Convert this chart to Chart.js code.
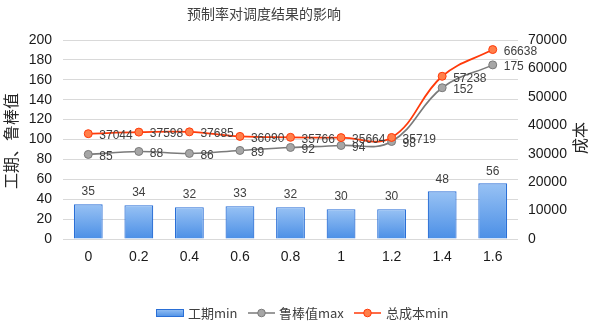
<!DOCTYPE html>
<html>
<head>
<meta charset="utf-8">
<script src="https://cdn.jsdelivr.net/npm/chart.js@4.4.0/dist/chart.umd.min.js"></script>
<style>
html,body{margin:0;padding:0;background:#fff;}
#wrap{width:590px;height:322px;}
</style>
</head>
<body>
<div id="wrap"><canvas id="c" width="590" height="322"></canvas></div>
<script>
const categories = ['0','0.2','0.4','0.6','0.8','1','1.2','1.4','1.6'];
const durationMin = [35,34,32,33,32,30,30,48,56];
const robustMax = [85,88,86,89,92,94,98,152,175];
const costMin = [37044,37598,37685,36090,35766,35664,35719,57238,66638];
const leftTicks = [0,20,40,60,80,100,120,140,160,180,200];
const rightTicks = [0,10000,20000,30000,40000,50000,60000,70000];

const titleText = '预制率对调度结果的影响';
const leftTitle = '工期、鲁棒值';
const rightTitle = '成本';
const seriesNames = ['工期min','鲁棒值max','总成本min'];

const FONT = '"Liberation Sans", "Noto Sans CJK SC", sans-serif';
const CJK = '"Noto Sans CJK SC", "Liberation Sans", sans-serif';

const BAR_TOP = '#98c2f4', BAR_BOT = '#4b8fe6', BAR_BORDER = '#2a6fd6';
const GRAY_LINE = '#7a7a7a', GRAY_FILL = '#a6a6a6';
const ORANGE_LINE = '#ff3a0a', ORANGE_FILL = '#ff7f4a';

const overlay = {
  id: 'overlay',
  afterDatasetsDraw(chart) {
    const ctx = chart.ctx;
    ctx.save();
    ctx.font = '12px ' + FONT;
    ctx.fillStyle = '#404040';
    const m0 = chart.getDatasetMeta(0);
    ctx.textAlign = 'center'; ctx.textBaseline = 'middle';
    m0.data.forEach((b, i) => ctx.fillText(String(durationMin[i]), b.x, b.y - 12));
    ctx.textAlign = 'left';
    const m1 = chart.getDatasetMeta(1);
    m1.data.forEach((p, i) => ctx.fillText(String(robustMax[i]), p.x + 11, p.y + 2));
    const m2 = chart.getDatasetMeta(2);
    m2.data.forEach((p, i) => ctx.fillText(String(costMin[i]), p.x + 11, p.y + 2));
    ctx.restore();
  },
  afterDraw(chart) {
    const ctx = chart.ctx;
    ctx.save();
    ctx.font = '14px ' + CJK;
    ctx.fillStyle = '#404040';
    ctx.textAlign = 'center'; ctx.textBaseline = 'middle';
    ctx.fillText(titleText, 264, 14);
    ctx.font = '16px ' + CJK;
    ctx.fillStyle = '#262626';
    ctx.save(); ctx.translate(11, 141); ctx.rotate(-Math.PI/2); ctx.fillText(leftTitle, 0, 0); ctx.restore();
    ctx.save(); ctx.translate(580, 138); ctx.rotate(-Math.PI/2); ctx.fillText(rightTitle, 0, 0); ctx.restore();
    const ly = 313;
    ctx.font = '13px ' + CJK;
    ctx.textAlign = 'left';
    const g = ctx.createLinearGradient(0, ly-4, 0, ly+4);
    g.addColorStop(0, BAR_TOP); g.addColorStop(1, BAR_BOT);
    ctx.fillStyle = g; ctx.fillRect(156.5, ly-3.5, 27, 7);
    ctx.strokeStyle = BAR_BORDER; ctx.lineWidth = 1; ctx.strokeRect(156.5, ly-3.5, 27, 7);
    ctx.fillStyle = '#404040';
    ctx.fillText(seriesNames[0], 188, ly);
    ctx.strokeStyle = GRAY_LINE; ctx.lineWidth = 1.5;
    ctx.beginPath(); ctx.moveTo(248, ly); ctx.lineTo(275, ly); ctx.stroke();
    ctx.beginPath(); ctx.arc(261.5, ly, 3.8, 0, Math.PI*2); ctx.fillStyle = GRAY_FILL; ctx.fill(); ctx.lineWidth = 1; ctx.stroke();
    ctx.fillStyle = '#404040';
    ctx.fillText(seriesNames[1], 279, ly);
    ctx.strokeStyle = ORANGE_LINE; ctx.lineWidth = 1.5;
    ctx.beginPath(); ctx.moveTo(354, ly); ctx.lineTo(381, ly); ctx.stroke();
    ctx.beginPath(); ctx.arc(367.5, ly, 3.8, 0, Math.PI*2); ctx.fillStyle = ORANGE_FILL; ctx.fill(); ctx.lineWidth = 1; ctx.stroke();
    ctx.fillStyle = '#404040';
    ctx.fillText(seriesNames[2], 386, ly);
    ctx.restore();
  }
};

new Chart(document.getElementById('c'), {
  data: {
    labels: categories,
    datasets: [
      {
        type: 'bar', label: seriesNames[0], data: durationMin, yAxisID: 'y', order: 3,
        backgroundColor: (c) => {
          const ch = c.chart, a = ch.chartArea;
          if (!a || c.type !== 'data') return '#6fa8ef';
          const y = ch.scales.y.getPixelForValue(c.raw);
          const gr = ch.ctx.createLinearGradient(0, y, 0, a.bottom);
          gr.addColorStop(0, BAR_TOP); gr.addColorStop(1, BAR_BOT);
          return gr;
        },
        borderColor: BAR_BORDER, borderWidth: 1.2,
        barPercentage: 0.57, categoryPercentage: 1
      },
      {
        type: 'line', label: seriesNames[1], data: robustMax, yAxisID: 'y', order: 2,
        borderColor: GRAY_LINE, borderWidth: 1.6, tension: 0.4,
        pointRadius: 4, pointBackgroundColor: GRAY_FILL, pointBorderColor: GRAY_LINE, pointBorderWidth: 1
      },
      {
        type: 'line', label: seriesNames[2], data: costMin, yAxisID: 'y1', order: 1,
        borderColor: ORANGE_LINE, borderWidth: 1.8, tension: 0.4,
        pointRadius: 4, pointBackgroundColor: ORANGE_FILL, pointBorderColor: ORANGE_LINE, pointBorderWidth: 1
      }
    ]
  },
  options: {
    responsive: false, animation: false,
    layout: { padding: { top: 40, left: 0, right: 0, bottom: 0 } },
    plugins: { legend: { display: false }, title: { display: false }, tooltip: { enabled: false } },
    scales: {
      x: {
        grid: { display: false, drawTicks: false }, border: { display: false },
        ticks: { color: '#1a1a1a', font: { family: FONT, size: 14 }, padding: 10, maxRotation: 0 },
        afterFit(s) { s.height = 83; }
      },
      y: {
        position: 'left', min: 0, max: 200,
        afterBuildTicks(s) { s.ticks = leftTicks.map(v => ({ value: v })); },
        grid: { color: '#d9d9d9', lineWidth: 1, drawTicks: false }, border: { display: false },
        ticks: { color: '#1a1a1a', font: { family: FONT, size: 14 }, padding: 11, callback: v => String(v) },
        afterFit(s) { s.width = 63; }
      },
      y1: {
        position: 'right', min: 0, max: 70000,
        afterBuildTicks(s) { s.ticks = rightTicks.map(v => ({ value: v })); },
        grid: { display: false, drawTicks: false }, border: { display: false },
        ticks: { color: '#1a1a1a', font: { family: FONT, size: 14 }, padding: 10, callback: v => String(v) },
        afterFit(s) { s.width = 72; }
      }
    }
  },
  plugins: [overlay]
});
</script>
</body>
</html>
